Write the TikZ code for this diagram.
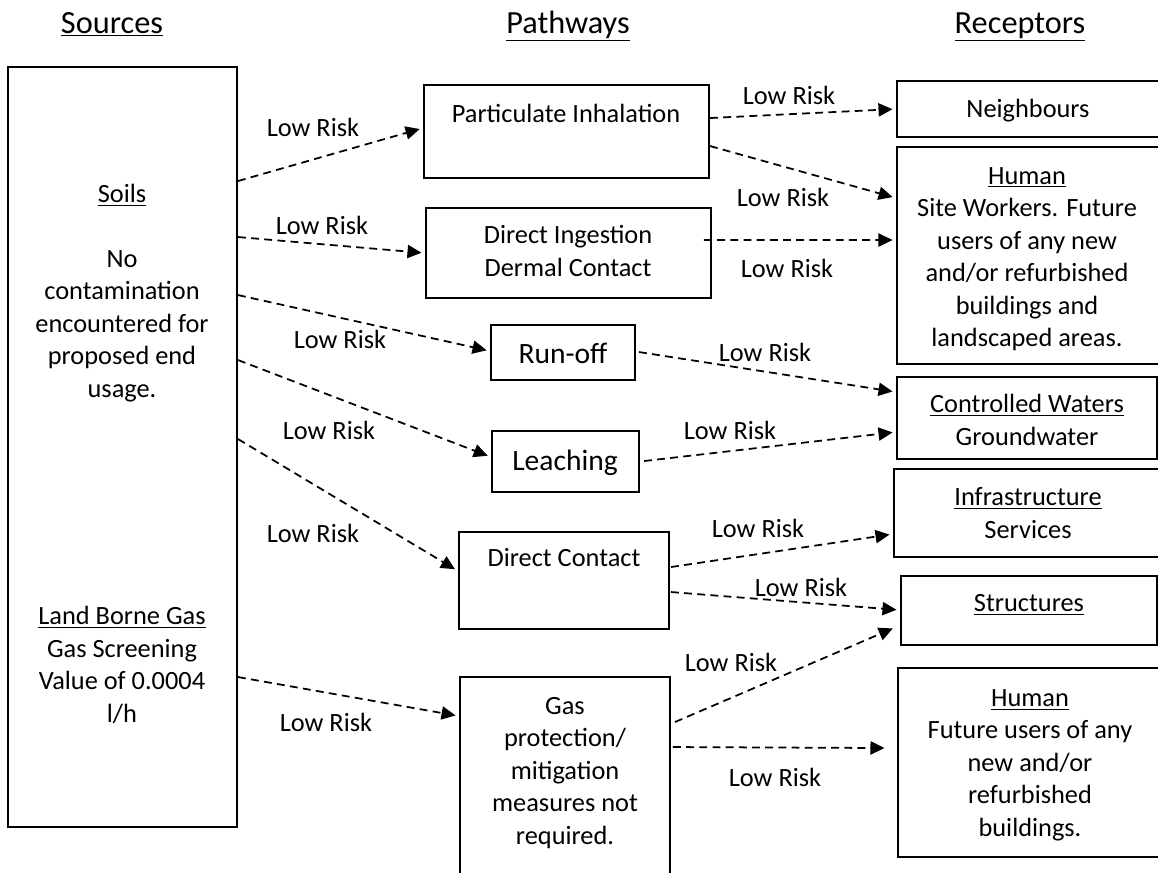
\documentclass[tikz,border=0pt]{standalone}
\usepackage{fontspec}
\setmainfont{Carlito}
\usetikzlibrary{arrows.meta,fit,calc}

\begin{document}
\begin{tikzpicture}[x=0.02cm, y=-0.02cm,
  box/.style={draw, line width=1.1pt, inner sep=0pt},
  txt/.style={align=center, font=\fontsize{15}{18.5}\selectfont},
  big/.style={font=\fontsize{16.8}{20}\selectfont},
  head/.style={font=\fontsize{18.4}{22}\selectfont},
  risk/.style={font=\fontsize{15}{18}\selectfont},
  flow/.style={line width=1pt, dash pattern=on 4.5pt off 3pt, -{Triangle[length=8pt,width=7.5pt]}, shorten >=2pt}]

\path[use as bounding box, clip] (0,0) rectangle (1158,872);

\node[head, anchor=base] (SourcesHead) at (112,33) {\underline{Sources}};
\node[head, anchor=base] (PathwaysHead) at (568,33) {\underline{Pathways}};
\node[head, anchor=base] (ReceptorsHead) at (1020,33) {\underline{Receptors}};

\node[box, fit={(8,67) (237,827)}] (src) {};
\node[txt] (SoilsText) at (122,293) {\underline{Soils}\\[18.5pt] No\\ contamination\\ encountered for\\ proposed end\\ usage.};
\node[txt] (GasText) at (122,665) {\underline{Land Borne Gas}\\ Gas Screening\\ Value of 0.0004\\ l/h};

\node[box, fit={(424,85) (709,178)}] (pi) {};
\node[txt] (PiText) at (566,113) {Particulate Inhalation};
\node[box, fit={(426,208) (711,298)}] (ing) {};
\node[txt] (IngText) at (568,251) {Direct Ingestion\\ Dermal Contact};
\node[box, fit={(491,325) (635,380)}] (run) {};
\node[big] (RunText) at (563,353) {Run-off};
\node[box, fit={(492,431) (639,492)}] (lea) {};
\node[big] (LeaText) at (565,463) {Leaching};
\node[box, fit={(459,532) (669,629)}] (dc) {};
\node[txt] (DcText) at (564,558) {Direct Contact};
\node[box, fit={(460,677) (670,885)}] (gas) {};
\node[txt] (GasMitText) at (565,773) {Gas\\ protection/\\ mitigation\\ measures not\\ required.};

\node[box, fit={(897,81) (1160,137)}] (nb) {};
\node[txt] (NbText) at (1028,111) {Neighbours};
\node[box, fit={(897,147) (1160,364)}] (hum) {};
\node[txt] (HumText) at (1027,259) {\underline{Human}\\ Site Workers. Future\\ users of any new\\ and/or refurbished\\ buildings and\\ landscaped areas.};
\node[box, fit={(897,377) (1157,459)}] (cw) {};
\node[txt] (CwText) at (1027,420) {\underline{Controlled Waters}\\ Groundwater};
\node[box, fit={(894,469) (1162,557)}] (inf) {};
\node[txt] (InfText) at (1028,513) {\underline{Infrastructure}\\ Services};
\node[box, fit={(901,576) (1157,645)}] (st) {};
\node[txt] (StText) at (1029,605) {\underline{Structures}};
\node[box, fit={(898,668) (1162,857)}] (fut) {};
\node[txt] (FutText) at (1030,765) {\underline{Human}\\ Future users of any\\ new and/or\\ refurbished\\ buildings.};

\draw[flow] ($(src.north east)+(0,115)$) -- ($(pi.north west)+(0,44)$);
\draw[flow] ($(src.north east)+(0,171)$) -- ($(ing.north west)+(0,46)$);
\draw[flow] ($(src.north east)+(0,229)$) -- ($(run.north west)+(0,27)$);
\draw[flow] ($(src.north east)+(0,294)$) -- ($(lea.north west)+(0,27)$);
\draw[flow] ($(src.north east)+(0,373)$) -- ($(dc.north west)+(0,40)$);
\draw[flow] ($(src.north east)+(0,611)$) -- ($(gas.north west)+(0,40)$);

\draw[flow] ($(pi.north east)+(0,34)$) -- ($(nb.north west)+(0,29)$);
\draw[flow] ($(pi.north east)+(0,62)$) -- ($(hum.north west)+(0,52)$);
\draw[flow] ($(ing.north east)+(-8,33)$) -- ($(hum.north west)+(0,94)$);
\draw[flow] ($(run.north east)+(3,28)$) -- ($(cw.north west)+(0,16)$);
\draw[flow] ($(lea.north east)+(4,31)$) -- ($(cw.north west)+(0,56)$);
\draw[flow] ($(dc.north east)+(1,36)$) -- ($(inf.north west)+(0,66)$);
\draw[flow] ($(dc.north east)+(1,61)$) -- ($(st.north west)+(0,35)$);
\draw[flow] ($(gas.north east)+(4,46)$) -- ($(st.north west)+(-4,52)$);
\draw[flow] ($(gas.north east)+(2,71)$) -- ($(fut.north west)+(-9,81)$);

\node[risk] (risk1) at (313,127) {Low Risk};
\node[risk] (risk2) at (322,225) {Low Risk};
\node[risk] (risk3) at (340,339) {Low Risk};
\node[risk] (risk4) at (329,430) {Low Risk};
\node[risk] (risk5) at (313,533) {Low Risk};
\node[risk] (risk6) at (326,722) {Low Risk};
\node[risk] (risk7) at (789,95) {Low Risk};
\node[risk] (risk8) at (783,197) {Low Risk};
\node[risk] (risk9) at (787,268) {Low Risk};
\node[risk] (risk10) at (765,352) {Low Risk};
\node[risk] (risk11) at (730,430) {Low Risk};
\node[risk] (risk12) at (758,528) {Low Risk};
\node[risk] (risk13) at (801,587) {Low Risk};
\node[risk] (risk14) at (731,662) {Low Risk};
\node[risk] (risk15) at (775,777) {Low Risk};

\end{tikzpicture}
\end{document}
